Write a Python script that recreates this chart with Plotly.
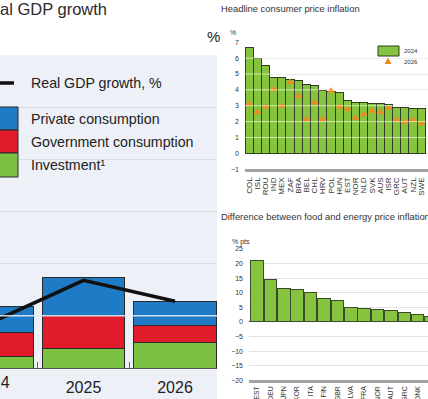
import plotly.graph_objects as go

W, H = 428, 399

# ---------------- data ----------------
# Left panel: real GDP growth and contributions (%)
gdp_years = ["2024", "2025", "2026"]
gdp_growth = [0.88, 1.68, 1.28]
investment = [0.23, 0.38, 0.48]
gov_consumption = [0.46, 0.62, 0.34]
priv_consumption = [0.48, 0.74, 0.46]

# Top right: headline consumer price inflation (%)
cpi_countries = ["COL", "ISL", "ROU", "IND", "MEX", "ZAF", "BRA", "BEL", "CHL", "HRV", "POL",
                 "HUN", "EST", "NOR", "NLD", "SVK", "AUS", "ISR", "GRC", "AUT", "NZL", "SWE"]
cpi_2024 = [6.68, 5.99, 5.52, 4.79, 4.77, 4.68, 4.58, 4.31, 4.30, 3.95, 3.90,
            3.83, 3.36, 3.22, 3.18, 3.17, 3.14, 3.10, 2.92, 2.86, 2.85, 2.82]
cpi_2026 = [3.11, 2.59, 2.94, 4.04, 2.98, 4.48, 3.61, 2.14, 3.19, 2.14, 3.95,
            2.94, 2.79, 2.24, 2.46, 2.67, 2.59, 2.88, 2.10, 1.99, 2.10, 1.89]

# Bottom right: difference between food and energy price inflation (% pts)
fe_countries = ["EST", "DEU", "JPN", "KOR", "ITA", "FIN", "GBR", "LVA", "FRA", "NOR",
                "AUT", "GRC", "DNK", "…"]
fe_diff = [21.2, 14.7, 11.6, 11.2, 10.2, 8.1, 7.5, 5.0, 4.6, 4.1, 3.8, 3.2, 2.7, 2.0]

# ---------------- styling ----------------
BLUE = "#1f7bc5"
RED = "#e01b2c"
GREEN = "#7cc142"
GREEN2 = "#86c43f"
ORANGE = "#ef8a22"
PANEL_BG = "#edf0f7"
FONT = "Liberation Sans"


def px(x):
    return x / W


def py(y):
    return 1 - y / H


fig = go.Figure()

# ---- left panel traces ----
xi = list(range(len(gdp_years)))
for name, vals, col in [("Investment¹", investment, GREEN),
                        ("Government consumption", gov_consumption, RED),
                        ("Private consumption", priv_consumption, BLUE)]:
    fig.add_trace(go.Bar(x=xi, y=vals, name=name, width=0.9,
                         marker=dict(color=col, line=dict(color="#2a2a2a", width=1)),
                         xaxis="x", yaxis="y"))
fig.add_trace(go.Scatter(x=xi, y=gdp_growth, mode="lines", name="Real GDP growth, %",
                         line=dict(color="#111111", width=3.5), xaxis="x", yaxis="y"))

# ---- top right traces ----
fig.add_trace(go.Bar(x=cpi_countries, y=cpi_2024, name="2024", width=1.0,
                     marker=dict(color=GREEN2, line=dict(color="#2f3d22", width=1)),
                     xaxis="x2", yaxis="y2"))
fig.add_trace(go.Scatter(x=cpi_countries, y=cpi_2026, mode="markers", name="2026",
                         marker=dict(symbol="triangle-up", color=ORANGE, size=7),
                         xaxis="x2", yaxis="y2"))

# ---- bottom right traces ----
fig.add_trace(go.Bar(x=fe_countries, y=fe_diff, width=0.94,
                     marker=dict(color=GREEN2, line=dict(color="#3a4a2a", width=1)),
                     xaxis="x3", yaxis="y3"))

# ---------------- axes ----------------
left_x_range = [0.087, 2.459]
left_dom = [0, 217 / W]
fig.update_layout(
    width=W, height=H, margin=dict(l=0, r=0, t=0, b=0, pad=0, autoexpand=False),
    paper_bgcolor="white", plot_bgcolor="rgba(0,0,0,0)",
    showlegend=False, barmode="stack",
    font=dict(family=FONT, color="#222"),
    xaxis=dict(domain=left_dom, range=left_x_range, tickmode="array",
               tickvals=xi, ticktext=gdp_years, ticks="", automargin=False,
               tickfont=dict(size=16, color="#222"), ticklabelstandoff=5,
               showgrid=False, zeroline=False, showline=True, linecolor="#555", linewidth=1,
               minor=dict(tickmode="array", tickvals=[0.5, 1.5], ticks="inside",
                          ticklen=6, tickcolor="#666", showgrid=False)),
    yaxis=dict(domain=[py(368), py(55)], range=[0, 6], dtick=1, showticklabels=False,
               automargin=False,
               showgrid=True, gridcolor="#dadde4", gridwidth=1, zeroline=False),
    xaxis2=dict(domain=[px(245), 1], range=[-0.5, 21.82], ticks="", tickangle=-90,
                tickmode="linear", tick0=0, dtick=1, automargin=False,
                tickfont=dict(size=8, color="#333"), ticklabelstandoff=2,
                showgrid=False, zeroline=False, showline=True, linecolor="#a3a3a3",
                linewidth=3, anchor="y2"),
    yaxis2=dict(domain=[py(169.2), py(42.3)], range=[-1, 7], dtick=1, ticks="",
                automargin=False,
                tickfont=dict(size=7, color="#333"), ticklabelstandoff=5,
                showgrid=True, gridcolor="#e2e2e2", zeroline=False, anchor="x2"),
    xaxis3=dict(domain=[px(249), 1], range=[-0.597, 12.77], ticks="", tickangle=-90,
                tickmode="linear", tick0=0, dtick=1, automargin=False,
                tickfont=dict(size=7, color="#333"), ticklabelstandoff=0,
                showgrid=False, zeroline=False, showline=True, linecolor="#a3a3a3",
                linewidth=3, anchor="y3"),
    yaxis3=dict(domain=[py(380.3), py(249)], range=[-20, 25], dtick=5, ticks="",
                automargin=False,
                tickfont=dict(size=7, color="#333"), ticklabelstandoff=5,
                showgrid=True, gridcolor="#e2e2e2", zeroline=True, zerolinecolor="#333",
                zerolinewidth=1, anchor="x3"),
)

shapes = []
# left panel background
shapes.append(dict(type="rect", xref="paper", yref="paper", x0=0, x1=px(217), y0=0, y1=py(55),
                   fillcolor=PANEL_BG, line=dict(width=0), layer="below"))
# light gridline drawn over the bars (left panel)
shapes.append(dict(type="line", xref="x domain", yref="y", x0=0, x1=1, y0=1, y1=1,
                   line=dict(color="rgba(225,236,248,0.9)", width=1.5), layer="above"))
# light gridlines over bars (top right)
for v in range(1, 7):
    shapes.append(dict(type="line", xref="x2 domain", yref="y2", x0=0, x1=1, y0=v, y1=v,
                       line=dict(color="rgba(255,255,255,0.6)", width=1), layer="above"))

# left legend swatches
shapes.append(dict(type="line", xref="paper", yref="paper", x0=px(-2), x1=px(14), y0=py(83), y1=py(83),
                   line=dict(color="#111", width=3.5)))
for (y0, y1, col) in [(107, 130, BLUE), (130, 153, RED), (153, 177, GREEN)]:
    shapes.append(dict(type="rect", xref="paper", yref="paper", x0=px(-2), x1=px(18),
                       y0=py(y1), y1=py(y0), fillcolor=col, line=dict(color="#2a2a2a", width=1)))

# top right legend
shapes.append(dict(type="rect", xref="paper", yref="paper", x0=px(378), x1=px(399),
                   y0=py(56), y1=py(46), fillcolor=GREEN2, line=dict(color="#2f3d22", width=1)))
tx, ty = 388, 61
shapes.append(dict(type="path", xref="paper", yref="paper",
                   path=f"M {px(tx-3.5)},{py(ty+3)} L {px(tx+3.5)},{py(ty+3)} L {px(tx)},{py(ty-3.5)} Z",
                   fillcolor=ORANGE, line=dict(width=0)))

annotations = []


def ann(text, x, y, size, color="#222", xanchor="left"):
    annotations.append(dict(text=text, x=px(x), y=py(y), xref="paper", yref="paper",
                            xanchor=xanchor, yanchor="middle", showarrow=False, borderpad=0,
                            font=dict(size=size, family=FONT, color=color)))


ann("al GDP growth", -1, 9, 16.5, color="#2b2b2b")
ann("%", 213, 36, 15, xanchor="center")
ann("Real GDP growth, %", 30, 83, 14.2)
ann("Private consumption", 30, 119, 14.2)
ann("Government consumption", 30, 142, 14.2)
ann("Investment¹", 30, 165, 14.2)
# first year label (its category lies partly off the left edge)
x0_px = (0 - left_x_range[0]) / (left_x_range[1] - left_x_range[0]) * 217
ann(gdp_years[0], x0_px, 382, 16, xanchor="center")

ann("Headline consumer price inflation", 220, 9, 9.4, color="#333")
ann("%", 233, 33, 7, color="#333", xanchor="center")
ann("2024", 403, 51, 6, color="#333")
ann("2026", 403, 62, 6, color="#333")

ann("Difference between food and energy price inflation a", 220, 216, 9.4, color="#333")
ann("% pts", 231, 242, 7, color="#333")

fig.update_layout(shapes=shapes, annotations=annotations)
fig.write_html("out.html", config={"displayModeBar": False},
               post_script="document.body.style.margin='0';document.body.style.overflow='hidden';")
